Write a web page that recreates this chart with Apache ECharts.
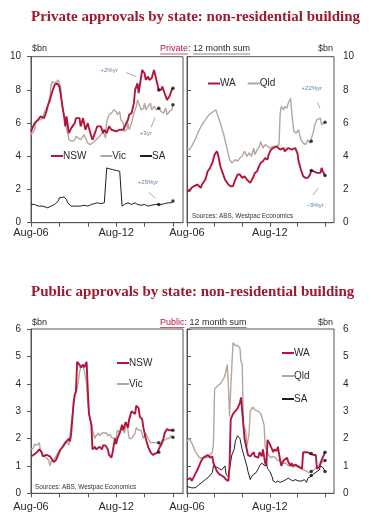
<!DOCTYPE html>
<html><head><meta charset="utf-8">
<script src="https://cdn.jsdelivr.net/npm/echarts@6/dist/echarts.min.js"></script>
<style>html,body{margin:0;padding:0;background:#fff}#c{width:371px;height:523px}</style>
</head><body><div id="c"></div>
<script>
// ---------- DATA ----------
const chartTitles = ['Private approvals by state: non-residential building', 'Public approvals by state: non-residential building'];
const headerKinds = ['Private', 'Public'];
const headerRest = '12 month sum';
const unitLabel = '$bn';
const sourceText = 'Sources: ABS, Westpac Economics';
// x positions are months since Aug-06
const xTickMonths = [0, 24, 48, 72, 96, 120];
const xLabelMonths = [0, 72];
const xLabelTexts = ['Aug-06', 'Aug-12'];
const dotMonths = [108, 120];

// Private, left panel
const privNSW = [[0,5.5],[3,6.0],[6,6.2],[8,6.4],[11,6.3],[13,6.7],[14,7.0],[16,7.4],[18,7.9],[20,8.3],[22,8.4],[24,8.2],[25,7.8],[27,6.8],[28,6.4],[29,5.8],[30,6.4],[32,5.4],[34,5.7],[37,6.0],[38,6.3],[41,6.3],[42,5.8],[44,6.3],[46,5.6],[48,6.0],[49,5.7],[51,5.2],[52,5.0],[54,5.4],[55,5.6],[56,5.8],[59,5.8],[61,5.4],[62,5.6],[64,5.4],[65,5.6],[66,5.8],[68,5.6],[72,5.5],[75,5.6],[78,5.6],[80,5.9],[82,6.2],[83,6.5],[85,6.6],[87,7.2],[88,8.0],[90,8.4],[91,7.8],[92,7.8],[94,9.2],[96,9.0],[97,8.6],[99,8.8],[100,8.6],[102,8.7],[104,9.2],[106,8.6],[108,8.0],[110,8.0],[111,8.2],[113,7.8],[115,7.4],[117,7.6],[119,8.0],[120,8.1]];
const privVic = [[0,5.3],[1,5.2],[3,5.6],[4,6.0],[6,6.2],[8,6.2],[10,6.3],[11,6.6],[14,7.0],[16,7.6],[17,8.3],[18,8.5],[20,8.4],[21,8.5],[23,8.6],[24,8.7],[25,8.2],[26,7.2],[28,6.5],[29,6.0],[31,5.4],[32,5.0],[35,4.9],[37,5.0],[38,5.2],[40,5.1],[42,5.0],[45,5.3],[46,5.1],[48,4.8],[50,4.7],[52,4.8],[55,5.0],[58,5.2],[61,5.5],[62,5.6],[63,5.1],[64,6.1],[65,6.2],[66,6.5],[68,6.6],[70,6.8],[72,6.7],[73,6.5],[75,6.7],[76,6.2],[78,6.0],[79,5.5],[81,5.6],[82,6.0],[83,5.6],[85,6.0],[87,6.6],[89,7.0],[90,7.4],[92,7.0],[93,6.8],[95,6.9],[96,7.2],[97,6.8],[99,7.0],[101,7.2],[102,6.8],[104,7.0],[106,6.8],[108,6.9],[110,6.7],[112,6.6],[114,6.9],[115,6.5],[117,6.7],[119,6.8],[120,7.1]];
const privSA = [[0,1.1],[3,1.1],[6,1.0],[10,1.0],[14,0.9],[17,1.0],[20,1.1],[23,1.3],[24,1.5],[25,1.6],[28,1.55],[30,1.4],[31,1.2],[34,1.0],[37,1.0],[40,1.0],[42,1.0],[45,1.05],[48,1.0],[51,1.1],[54,1.15],[56,1.2],[59,1.15],[62,1.2],[63,1.1],[64,3.3],[66,3.25],[69,3.2],[72,3.15],[75,3.1],[76,3.2],[77,1.0],[79,1.1],[82,1.2],[85,1.1],[88,1.2],[90,1.1],[93,1.05],[96,1.1],[99,1.0],[102,1.05],[105,1.1],[108,1.1],[110,1.1],[113,1.15],[116,1.2],[119,1.2],[120,1.3]];
// Private, right panel
const privWA = [[0,1.9],[2,1.9],[4,2.1],[6,2.2],[9,2.3],[10,2.2],[12,2.1],[13,2.3],[16,2.6],[18,3.1],[20,3.3],[22,3.6],[24,4.1],[26,4.3],[27,4.1],[29,3.4],[31,3.0],[33,2.6],[36,2.3],[38,2.2],[40,2.2],[42,2.6],[44,2.9],[46,2.9],[48,2.7],[50,2.8],[52,2.6],[53,2.7],[55,2.4],[56,2.4],[58,2.8],[59,3.0],[61,3.1],[62,3.3],[64,3.6],[66,3.7],[68,3.9],[70,3.8],[71,4.1],[73,4.4],[75,4.5],[78,4.6],[81,4.4],[84,4.5],[85,4.3],[88,4.5],[91,4.4],[94,4.5],[96,4.2],[97,3.7],[99,3.2],[101,2.8],[103,2.7],[105,2.7],[107,2.9],[108,3.15],[110,3.1],[113,3.0],[114,2.9],[116,3.0],[117,3.3],[118,3.1],[120,2.85]];
const privQld = [[0,4.5],[2,4.4],[4,4.6],[7,5.0],[10,5.5],[13,5.9],[16,6.2],[19,6.5],[21,6.6],[23,6.7],[25,6.8],[26,6.7],[27,6.4],[29,6.0],[32,5.3],[35,4.4],[37,3.8],[39,3.6],[42,3.8],[44,3.7],[46,3.9],[48,4.0],[50,4.3],[52,4.0],[54,4.2],[56,4.0],[58,4.5],[59,4.1],[61,4.4],[63,4.6],[64,4.9],[66,4.5],[68,4.7],[70,4.6],[72,4.5],[75,4.6],[78,4.6],[80,4.7],[81,6.6],[82,7.0],[84,6.8],[85,7.0],[87,6.9],[88,7.2],[90,7.5],[92,6.0],[93,5.5],[95,5.4],[97,5.6],[99,5.0],[101,4.8],[103,4.7],[105,5.0],[107,4.8],[108,4.9],[110,5.5],[111,5.9],[113,6.2],[114,6.3],[116,6.3],[117,5.9],[118,5.9],[120,6.05]];
// Public, left panel
const pubNSW = [[0,1.35],[2,1.4],[5,1.5],[7,1.6],[9,1.5],[10,1.35],[13,1.4],[16,1.35],[17,1.3],[19,1.15],[21,1.2],[23,1.4],[25,1.6],[27,1.7],[30,1.9],[32,2.0],[33,1.9],[34,2.2],[36,3.3],[37,3.6],[38,3.7],[39,4.8],[41,4.7],[42,4.6],[44,4.7],[45,4.6],[47,4.8],[48,3.8],[49,2.9],[51,2.5],[52,1.6],[54,1.7],[55,1.6],[58,1.7],[60,1.6],[61,1.75],[63,1.75],[65,1.6],[66,1.4],[68,1.3],[69,1.5],[71,2.0],[72,1.8],[73,2.0],[75,2.2],[77,2.5],[78,2.3],[80,2.6],[82,2.4],[83,2.7],[85,3.0],[86,3.0],[88,2.9],[89,3.2],[91,3.1],[92,2.8],[94,2.7],[95,2.4],[97,2.0],[99,1.7],[101,1.5],[103,1.4],[105,1.45],[107,1.5],[108,1.5],[110,1.8],[112,2.0],[113,2.2],[115,2.35],[117,2.3],[118,2.35],[120,2.3]];
const pubVic = [[0,1.6],[2,1.65],[3,1.8],[5,1.75],[7,1.85],[8,1.55],[10,1.4],[13,1.3],[15,1.2],[16,1.0],[17,1.15],[19,1.2],[21,1.35],[23,1.5],[25,1.6],[27,1.75],[29,1.9],[31,1.85],[32,1.75],[34,2.5],[36,3.2],[37,3.6],[39,3.8],[41,4.4],[42,4.6],[44,4.6],[45,4.5],[47,4.0],[48,3.3],[50,2.7],[51,2.6],[52,2.3],[54,2.0],[55,2.1],[57,2.2],[58,2.1],[60,2.2],[61,2.15],[64,2.2],[65,2.1],[67,2.15],[68,2.05],[70,2.0],[71,2.05],[72,2.0],[73,2.3],[75,2.2],[77,2.4],[79,2.2],[81,2.6],[83,2.0],[85,2.0],[86,2.05],[88,2.2],[89,2.4],[91,2.3],[93,2.3],[95,2.0],[97,2.2],[99,2.0],[101,1.85],[104,1.85],[106,1.85],[108,1.85],[110,1.7],[112,1.9],[113,1.95],[115,2.0],[117,2.0],[118,2.1],[120,2.05]];
// Public, right panel
const pubWA = [[0,0.5],[1,0.5],[3,0.55],[4,0.45],[6,0.6],[7,0.7],[9,0.85],[10,0.95],[12,1.15],[14,1.3],[16,1.35],[18,1.4],[20,1.3],[22,1.35],[23,1.1],[25,0.9],[26,0.8],[28,0.7],[30,0.65],[32,0.6],[34,0.5],[36,0.45],[37,1.0],[38,2.7],[40,2.9],[42,3.0],[44,3.1],[46,3.3],[47,3.5],[48,3.0],[50,2.0],[52,1.6],[53,1.4],[55,1.35],[56,1.3],[58,1.5],[59,1.35],[60,1.4],[62,1.3],[63,1.5],[65,1.35],[66,1.6],[68,1.1],[69,1.0],[70,1.95],[72,1.8],[73,1.7],[75,1.5],[76,1.6],[78,1.55],[79,1.7],[81,1.2],[82,1.0],[84,1.2],[85,1.15],[87,1.3],[88,1.15],[90,1.0],[91,1.1],[92,1.0],[94,1.05],[96,1.0],[98,0.95],[100,0.9],[101,1.5],[103,1.5],[105,1.5],[107,1.45],[108,1.45],[110,1.4],[112,1.4],[113,0.9],[115,0.95],[116,1.1],[118,1.3],[120,1.5]];
const pubQld = [[0,1.9],[2,2.0],[4,1.85],[5,1.8],[7,1.55],[9,1.4],[11,1.3],[13,1.3],[15,1.3],[17,1.3],[20,1.4],[22,1.5],[23,1.8],[24,3.8],[26,3.9],[27,3.85],[29,4.0],[30,4.0],[32,4.2],[33,4.3],[35,4.7],[36,3.9],[37,2.8],[38,3.8],[40,5.5],[42,5.4],[44,5.4],[46,5.3],[47,4.8],[48,4.7],[49,2.5],[51,2.3],[52,1.7],[54,2.2],[55,3.0],[57,3.15],[59,3.05],[60,3.1],[62,3.0],[64,2.9],[65,2.8],[67,2.5],[68,1.7],[69,1.6],[71,1.4],[73,1.3],[75,1.35],[77,1.3],[79,1.2],[81,1.2],[84,1.1],[86,1.1],[88,1.0],[90,1.05],[92,0.95],[94,1.0],[97,0.95],[99,0.9],[102,0.85],[104,0.8],[106,0.75],[108,0.8],[110,0.85],[113,0.95],[116,1.05],[118,1.15],[120,1.2]];
const pubSA = [[0,0.25],[4,0.2],[7,0.2],[10,0.3],[13,0.4],[16,0.5],[19,0.6],[22,0.75],[23,1.0],[26,0.95],[28,0.9],[30,0.85],[31,0.8],[33,1.0],[34,0.7],[36,0.6],[37,0.9],[39,1.4],[41,1.6],[42,1.9],[44,2.1],[46,2.0],[47,1.8],[48,1.6],[50,1.3],[52,1.0],[53,0.8],[55,0.5],[56,0.6],[58,0.7],[59,0.65],[60,0.75],[62,0.9],[63,1.0],[65,1.1],[66,1.05],[68,1.0],[69,1.1],[70,0.9],[72,0.8],[74,0.6],[75,0.45],[77,0.4],[79,0.45],[81,0.4],[84,0.45],[86,0.5],[88,0.55],[90,0.5],[92,0.45],[94,0.5],[97,0.45],[98,0.5],[100,0.45],[102,0.5],[104,0.4],[105,0.55],[107,0.6],[108,0.65],[110,0.7],[113,0.8],[115,0.85],[116,1.0],[118,0.95],[120,0.8]];

// annotations: text, anchor [month, value], leader line from / to
const privAnnotTexts = ['+2%yr', '+3yr', '+25%yr', '+22%yr', '\u22129%yr'];
const privAnnotAt = [[66,9.2],[97,5.4],[99,2.44],[108.5,8.08],[111.5,1.06]];
const privLeaderFrom = [[80.5,9.04],[101.5,5.74],[99.5,1.84],[113.5,7.24],[109.5,1.66]];
const privLeaderTo = [[89,8.8],[104.8,6.34],[105,1.48],[115.5,6.88],[114,2.08]];

// ---------- STYLE ----------
const FONT = '"Liberation Sans", Arial, sans-serif';
const RED = '#b3163c', BROWN = '#b3a79c', BLACK = '#1e1e1e', AX = '#555', TXT = '#2a2a2a';
const TITLE_RED = '#9e1a30', ANNOT = '#5f7ea6';

const grids = [
  {left:31, top:56.7, width:152, height:166},
  {left:187, top:56.7, width:147, height:166},
  {left:31, top:329, width:152, height:164.3},
  {left:187, top:329, width:147, height:164.3}
];
const xMax = [128.5, 127.8, 128.5, 127.8];
const xMargin = [5, 5, 8, 8];

function xAxisFor(i) {
  return {
    type:'value', gridIndex:i, min:0, max:xMax[i], interval:24,
    axisLine:{show:true, lineStyle:{color:AX, width:1}},
    axisTick:{show:true, length:4, customValues:xTickMonths, lineStyle:{color:AX}},
    axisLabel:{show:true, customValues:xLabelMonths, margin:xMargin[i], fontSize:11, color:TXT, fontFamily:FONT,
      formatter: v => { const k = xLabelMonths.indexOf(Math.round(v)); return k >= 0 ? xLabelTexts[k] : ''; }},
    splitLine:{show:false}
  };
}
function yAxisFor(i, max, interval, right) {
  return {
    type:'value', gridIndex:i, min:0, max:max, interval:interval, position: right ? 'right' : 'left',
    axisLine:{show:true, lineStyle:{color:AX, width:1}},
    axisTick:{show:true, length:4, lineStyle:{color:AX}},
    axisLabel:{margin: right ? 9 : 10, fontSize:10, color:TXT, fontFamily:FONT},
    splitLine:{show:false}
  };
}
function line(name, data, gi, color, width, extra) {
  return Object.assign({
    type:'line', name:name, xAxisIndex:gi, yAxisIndex:gi, data:data, color:color,
    showSymbol:false, symbol:'none', lineStyle:{color:color, width:width}, z:2
  }, extra || {});
}
function dots(gi, arrs) {
  const pts = [];
  arrs.forEach(a => a.forEach(p => { if (dotMonths.indexOf(p[0]) >= 0) pts.push(p); }));
  return {type:'scatter', name:'_dots'+gi, xAxisIndex:gi, yAxisIndex:gi, data:pts, symbol:'circle', symbolSize:3.5,
    itemStyle:{color:'#111'}, z:5, silent:true};
}
function annot(indices) {
  return {
    markPoint:{ silent:true, symbol:'circle', symbolSize:1, itemStyle:{color:'rgba(0,0,0,0)'},
      label:{show:true, position:'inside', fontSize:6, color:ANNOT, fontFamily:FONT},
      data: indices.map(k => ({coord:privAnnotAt[k], value:privAnnotTexts[k], label:{formatter:privAnnotTexts[k]}}))},
    markLine:{ silent:true, symbol:['none','none'], label:{show:false}, lineStyle:{color:'#8a8a8a', width:0.7, type:'solid'},
      data: indices.map(k => [{coord:privLeaderFrom[k]}, {coord:privLeaderTo[k]}])}
  };
}

const series = [
  line('Vic', privVic, 0, BROWN, 1.4, annot([1])),
  line('NSW', privNSW, 0, RED, 1.9, annot([0])),
  line('SA', privSA, 0, BLACK, 1, annot([2])),
  dots(0, [privNSW, privVic, privSA]),
  line('Qld', privQld, 1, BROWN, 1.4, annot([3])),
  line('WA', privWA, 1, RED, 1.9, annot([4])),
  dots(1, [privWA, privQld]),
  line('Vic', pubVic, 2, BROWN, 1.4),
  line('NSW', pubNSW, 2, RED, 1.9),
  dots(2, [pubNSW, pubVic]),
  line('Qld', pubQld, 3, BROWN, 1.4),
  line('SA', pubSA, 3, BLACK, 1),
  line('WA', pubWA, 3, RED, 1.9),
  dots(3, [pubWA, pubQld, pubSA])
];

const legendBase = {icon:'rect', itemWidth:12, itemHeight:2, padding:0,
  textStyle:{fontSize:10, color:TXT, fontFamily:FONT, padding:[0,0,0,-5]}, selectedMode:false};
const legends = [
  Object.assign({}, legendBase, {data:['NSW','Vic','SA'], orient:'horizontal', left:51, top:151, itemGap:14}),
  Object.assign({}, legendBase, {data:['WA','Qld'], orient:'horizontal', left:208, top:78.5, itemGap:12}),
  Object.assign({}, legendBase, {data:['NSW','Vic'], orient:'vertical', left:117, top:358, itemGap:11}),
  Object.assign({}, legendBase, {data:['WA','Qld','SA'], orient:'vertical', left:282, top:348, itemGap:13})
];

// header graphics (unit labels, text + underline)
const mctx = document.createElement('canvas').getContext('2d');
mctx.font = '9px "Liberation Sans"';
function header(kind, x, y) {
  const w1 = mctx.measureText(kind).width;
  const w2 = mctx.measureText(': ').width;
  const w3 = mctx.measureText(headerRest).width;
  const st = {fontSize:9, fontFamily:FONT, verticalAlign:'middle', align:'left'};
  return [
    {type:'text', x:32, y:y, style:Object.assign({text:unitLabel, fill:TXT}, st)},
    {type:'text', x:333, y:y, style:Object.assign({}, st, {text:unitLabel, fill:TXT, align:'right'})},
    {type:'text', x:x, y:y, style:Object.assign({text:kind, fill:RED}, st)},
    {type:'text', x:x+w1, y:y, style:Object.assign({text:': ', fill:TXT}, st)},
    {type:'text', x:x+w1+w2, y:y, style:Object.assign({text:headerRest, fill:TXT}, st)},
    {type:'line', shape:{x1:x, y1:y+5, x2:x+w1, y2:y+5}, style:{stroke:RED, lineWidth:0.7}},
    {type:'line', shape:{x1:x+w1+w2, y1:y+5, x2:x+w1+w2+w3, y2:y+5}, style:{stroke:'#555', lineWidth:0.7}}
  ];
}
const graphics = [].concat(
  header(headerKinds[0], 160, 49),
  header(headerKinds[1], 160, 322.5),
  [
    {type:'text', x:192, y:216.5, style:{text:sourceText, fontSize:6.4, fontFamily:FONT, fill:'#333', verticalAlign:'middle'}},
    {type:'text', x:35, y:487, style:{text:sourceText, fontSize:6.4, fontFamily:FONT, fill:'#333', verticalAlign:'middle'}}
  ]
);

const chart = echarts.init(document.getElementById('c'), null, {renderer:'canvas'});
chart.setOption({
  animation:false,
  backgroundColor:'#fff',
  title: chartTitles.map((t, i) => ({text:t, left:31, top: i === 0 ? 10 : 285, padding:0,
    textStyle:{fontFamily:'"Liberation Serif", "Times New Roman", serif', fontWeight:'bold', fontSize:15, color:TITLE_RED}})),
  grid: grids.map(g => Object.assign({show:true, borderColor:AX, borderWidth:1, backgroundColor:'transparent'}, g)),
  xAxis: [0,1,2,3].map(xAxisFor),
  yAxis: [yAxisFor(0,10,2,false), yAxisFor(1,10,2,true), yAxisFor(2,6,1,false), yAxisFor(3,6,1,true)],
  legend: legends,
  series: series,
  graphic: graphics
});
</script></body></html>
